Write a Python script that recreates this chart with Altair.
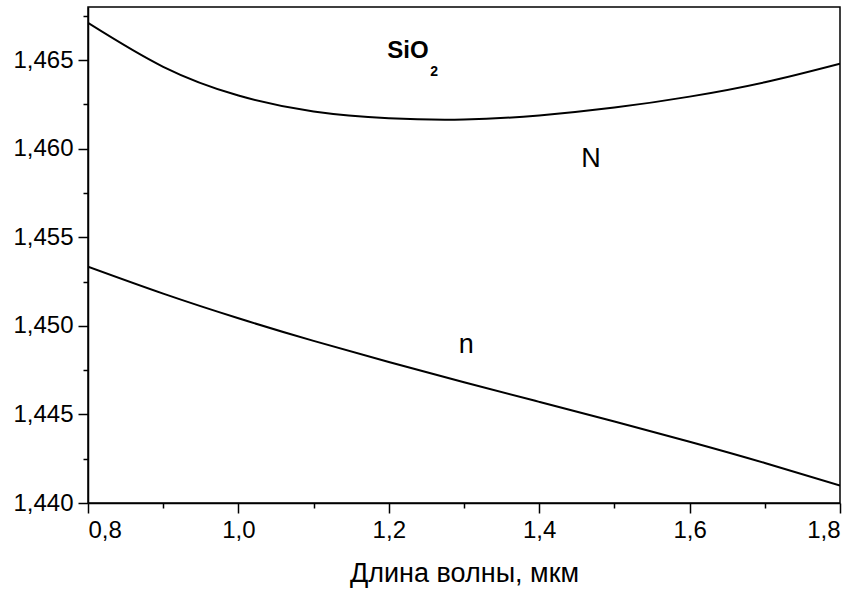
import altair as alt
import pandas as pd

# wavelength, µm
wavelength = [0.8, 0.9, 1.0, 1.1, 1.2, 1.3, 1.4, 1.5, 1.6, 1.7, 1.8]
# group index N of SiO2
N_group = [1.46710, 1.46462, 1.46300, 1.46210, 1.46172, 1.46165, 1.46188, 1.46232, 1.46294, 1.46375, 1.46480]
# phase index n of SiO2
n_phase = [1.45334, 1.45182, 1.45043, 1.44915, 1.44796, 1.44682, 1.44571, 1.44460, 1.44346, 1.44226, 1.44098]

x_major = [0.8, 1.0, 1.2, 1.4, 1.6, 1.8]
x_minor = [0.9, 1.1, 1.3, 1.5, 1.7]
y_major = [1.44, 1.445, 1.45, 1.455, 1.46, 1.465]
y_minor = [1.4425, 1.4475, 1.4525, 1.4575, 1.4625, 1.4675]

# annotations
ann_text = ["N", "n"]
ann_x = [1.469, 1.303]
ann_y = [1.4594, 1.4489]

rows = []
for w, a, b in zip(wavelength, N_group, n_phase):
    rows.append({"w": w, "v": a, "s": "N"})
    rows.append({"w": w, "v": b, "s": "n"})
df = pd.DataFrame(rows)
ann = pd.DataFrame({"t": ann_text, "w": ann_x, "v": ann_y})
sio = pd.DataFrame({"t": ["SiO"], "w": [1.198], "v": [1.4651]})
sub = pd.DataFrame({"t": ["2"], "w": [1.255], "v": [1.46410]})

FONT = "Liberation Sans"

xscale = alt.Scale(domain=[0.8, 1.8], nice=False, zero=False)
yscale = alt.Scale(domain=[1.44, 1.468], nice=False, zero=False)

xaxis = alt.Axis(
    values=x_major, orient="bottom",
    title="Длина волны, мкм",
    labelExpr="replace(format(datum.value,'.1f'),'.',',')",
    tickSize=10, grid=False,
    domainColor="black", domainWidth=1.5,
    tickColor="black", tickWidth=1.5,
    labelFont=FONT, labelFontSize=24, labelColor="black", labelPadding=5,
    titleFont=FONT, titleFontSize=27, titleFontWeight="normal", titleColor="black",
    titlePadding=18,
)
yaxis = alt.Axis(
    values=y_major, orient="left",
    title=None,
    labelExpr="replace(format(datum.value,'.3f'),'.',',')",
    tickSize=10, grid=False,
    domainColor="black", domainWidth=1.5,
    tickColor="black", tickWidth=1.5,
    labelFont=FONT, labelFontSize=24, labelColor="black", labelPadding=5,
)
xaxis_minor = alt.Axis(
    values=x_minor, orient="bottom", title=None, labels=False, domain=False,
    tickSize=5, tickColor="black", tickWidth=1.5, grid=False,
)
yaxis_minor = alt.Axis(
    values=y_minor, orient="left", title=None, labels=False, domain=False,
    tickSize=5, tickColor="black", tickWidth=1.5, grid=False,
)

lines = alt.Chart(df).mark_line(color="black", strokeWidth=2, interpolate="natural", clip=True).encode(
    x=alt.X("w:Q", scale=xscale, axis=xaxis),
    y=alt.Y("v:Q", scale=yscale, axis=yaxis),
    detail="s:N",
)
minor = alt.Chart(df).mark_point(opacity=0).encode(
    x=alt.X("w:Q", scale=xscale, axis=xaxis_minor),
    y=alt.Y("v:Q", scale=yscale, axis=yaxis_minor),
)

labels = alt.Chart(ann).mark_text(font=FONT, fontSize=27, color="black", align="center", baseline="middle").encode(
    x=alt.X("w:Q", scale=xscale, axis=None), y=alt.Y("v:Q", scale=yscale, axis=None), text="t:N"
)
sio_t = alt.Chart(sio).mark_text(font=FONT, fontSize=24, fontWeight="bold", color="black", align="left", baseline="alphabetic").encode(
    x=alt.X("w:Q", scale=xscale, axis=None), y=alt.Y("v:Q", scale=yscale, axis=None), text="t:N"
)
sub_t = alt.Chart(sub).mark_text(font=FONT, fontSize=14, fontWeight="bold", color="black", align="left", baseline="alphabetic").encode(
    x=alt.X("w:Q", scale=xscale, axis=None), y=alt.Y("v:Q", scale=yscale, axis=None), text="t:N"
)

chart = alt.layer(lines, minor, labels, sio_t, sub_t).resolve_axis(
    x="independent", y="independent"
).properties(
    width=752, height=496,
    autosize=alt.AutoSizeParams(type="none"),
    padding={"left": 88, "top": 7, "right": 18, "bottom": 88},
    background="white",
).configure_view(stroke="black", strokeWidth=1.5)

chart.save("out.html", embed_options={"renderer": "svg", "actions": False})
